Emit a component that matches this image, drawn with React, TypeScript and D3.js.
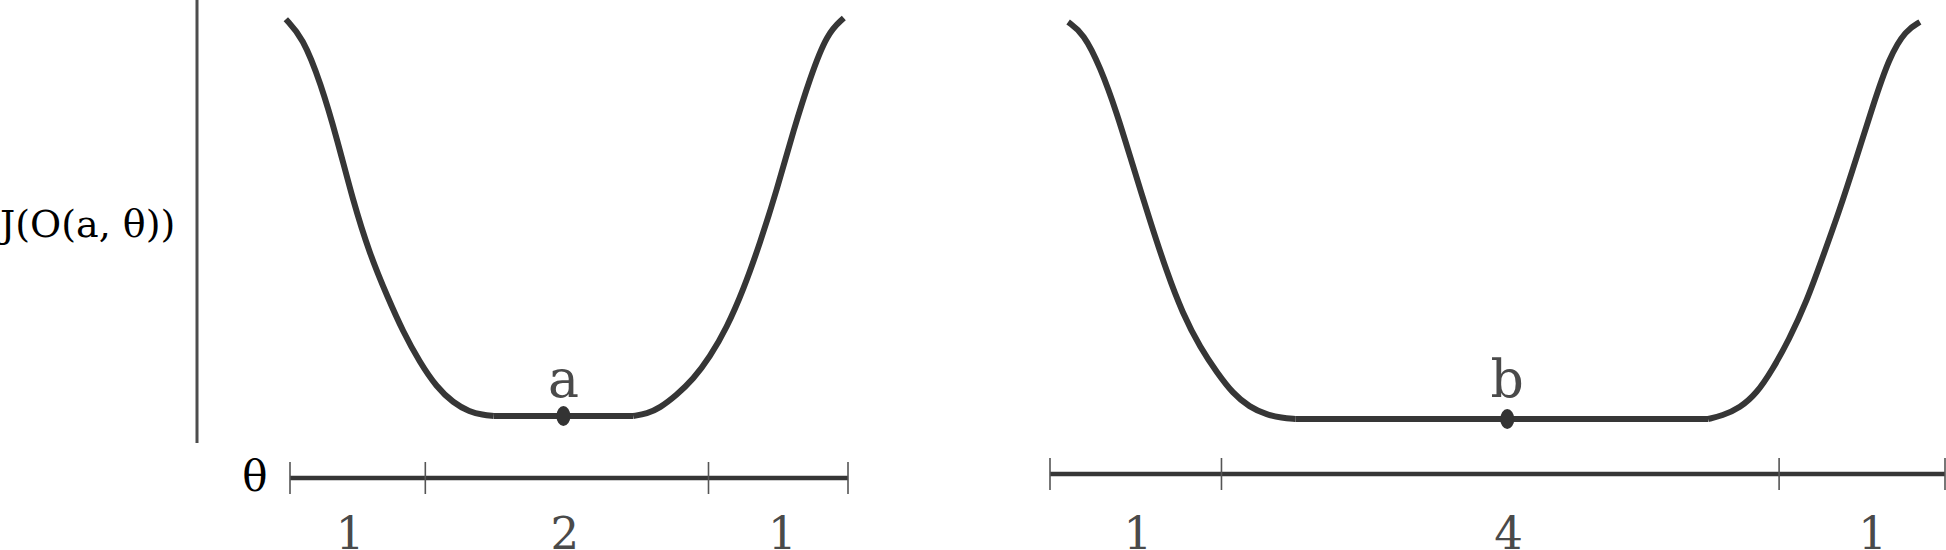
import React from "react";
import * as d3 from "d3";

// ---------- data ----------
const yAxisLabel = "J(O(a, θ))";
const thetaLabel = "θ";

// left panel (θ in units)
const leftTicks = [0, 0.97, 3, 4];
const leftTickLabels = ["1", "2", "1"];
const leftTickLabelPos = [0.43, 1.97, 3.53];
const leftDescTheta = [-0.03, 0.09, 0.22, 0.34, 0.45, 0.57, 0.7, 0.81, 0.93, 1.05, 1.17, 1.29, 1.38, 1.46];
const leftDescJ = [0.997, 0.952, 0.837, 0.693, 0.543, 0.408, 0.298, 0.212, 0.135, 0.073, 0.033, 0.01, 0.003, 0];
const leftAscTheta = [2.46, 2.56, 2.65, 2.77, 2.89, 3.01, 3.13, 3.25, 3.37, 3.49, 3.61, 3.73, 3.85, 3.97];
const leftAscJ = [0, 0.006, 0.02, 0.052, 0.092, 0.148, 0.221, 0.317, 0.435, 0.568, 0.719, 0.852, 0.962, 1.0];
const leftMin = 1.96;
const leftMinLabel = "a";

// right panel
const rightTicks = [0, 1.23, 5.23, 6.42];
const rightTickLabels = ["1", "4", "1"];
const rightTickLabelPos = [0.63, 3.29, 5.9];
const rightDescTheta = [0.13, 0.24, 0.36, 0.48, 0.59, 0.72, 0.84, 0.95, 1.08, 1.2, 1.31, 1.43, 1.56, 1.66, 1.76];
const rightDescJ = [1.0, 0.972, 0.887, 0.771, 0.643, 0.496, 0.368, 0.267, 0.178, 0.116, 0.065, 0.03, 0.01, 0.003, 0];
const rightAscTheta = [4.72, 4.82, 4.95, 5.07, 5.18, 5.3, 5.43, 5.54, 5.66, 5.78, 5.9, 6.02, 6.14, 6.24];
const rightAscJ = [0, 0.008, 0.028, 0.065, 0.123, 0.199, 0.298, 0.405, 0.522, 0.652, 0.786, 0.912, 0.98, 1.0];
const rightMin = 3.28;
const rightMinLabel = "b";

const INK = "#363636";
const GREY_TEXT = "#4a4a4a";
const FONT = "'DejaVu Serif', serif";

type PanelProps = {
  ticks: number[];
  tickLabels: string[];
  tickLabelPos: number[];
  descTheta: number[];
  descJ: number[];
  ascTheta: number[];
  ascJ: number[];
  minTheta: number;
  minLabel: string;
  xRange: [number, number];
  yRange: [number, number];
  axisY: number;
  showTheta: boolean;
};

function Panel(p: PanelProps) {
  const dmax = p.ticks[p.ticks.length - 1];
  const x = d3.scaleLinear().domain([0, dmax]).range(p.xRange);
  const y = d3.scaleLinear().domain([0, 1]).range(p.yRange);
  const desc = p.descTheta.map((t, i) => [t, p.descJ[i]] as [number, number]);
  const asc = p.ascTheta.map((t, i) => [t, p.ascJ[i]] as [number, number]);
  const flat: [number, number][] = [desc[desc.length - 1], asc[0]];
  const smooth = d3
    .line<[number, number]>()
    .x((d) => x(d[0]))
    .y((d) => y(d[1]))
    .curve(d3.curveBasis);
  const straight = d3
    .line<[number, number]>()
    .x((d) => x(d[0]))
    .y((d) => y(d[1]));
  return (
    <g>
      <path d={smooth(desc) || ""} fill="none" stroke={INK} strokeWidth={6} />
      <path d={straight(flat) || ""} fill="none" stroke={INK} strokeWidth={6} />
      <path d={smooth(asc) || ""} fill="none" stroke={INK} strokeWidth={6} />
      <ellipse cx={x(p.minTheta)} cy={y(0)} rx={7} ry={10} fill="#333" />
      <text x={x(p.minTheta)} y={397} fontSize={52} fill={GREY_TEXT} textAnchor="middle" fontFamily={FONT}>
        {p.minLabel}
      </text>
      <line x1={x(0)} x2={x(dmax)} y1={p.axisY} y2={p.axisY} stroke={INK} strokeWidth={4.5} />
      {p.ticks.map((t, i) => (
        <line key={i} x1={x(t)} x2={x(t)} y1={p.axisY - 16} y2={p.axisY + 16} stroke="#555" strokeWidth={1.6} />
      ))}
      {p.tickLabels.map((s, i) => (
        <text key={i} x={x(p.tickLabelPos[i])} y={549} fontSize={45} fill={GREY_TEXT} textAnchor="middle" fontFamily={FONT}>
          {s}
        </text>
      ))}
      {p.showTheta && (
        <text x={255} y={491} fontSize={42} fill="#000" textAnchor="middle" fontFamily={FONT}>
          {thetaLabel}
        </text>
      )}
    </g>
  );
}

export default function App() {
  return (
    <svg
      width={1946}
      height={550}
      style={{ position: "absolute", left: 0, top: 0, background: "#fff" }}
    >
      <rect width={1946} height={550} fill="#fff" />
      <line x1={197} x2={197} y1={0} y2={443} stroke="#4d4d4d" strokeWidth={3} />
      <text x={0} y={237} fontSize={38} fill="#000" fontFamily={FONT}>
        {yAxisLabel}
      </text>
      <Panel
        ticks={leftTicks}
        tickLabels={leftTickLabels}
        tickLabelPos={leftTickLabelPos}
        descTheta={leftDescTheta}
        descJ={leftDescJ}
        ascTheta={leftAscTheta}
        ascJ={leftAscJ}
        minTheta={leftMin}
        minLabel={leftMinLabel}
        xRange={[290, 848]}
        yRange={[416, 18]}
        axisY={478}
        showTheta={true}
      />
      <Panel
        ticks={rightTicks}
        tickLabels={rightTickLabels}
        tickLabelPos={rightTickLabelPos}
        descTheta={rightDescTheta}
        descJ={rightDescJ}
        ascTheta={rightAscTheta}
        ascJ={rightAscJ}
        minTheta={rightMin}
        minLabel={rightMinLabel}
        xRange={[1050, 1945]}
        yRange={[419, 22]}
        axisY={474}
        showTheta={false}
      />
    </svg>
  );
}
